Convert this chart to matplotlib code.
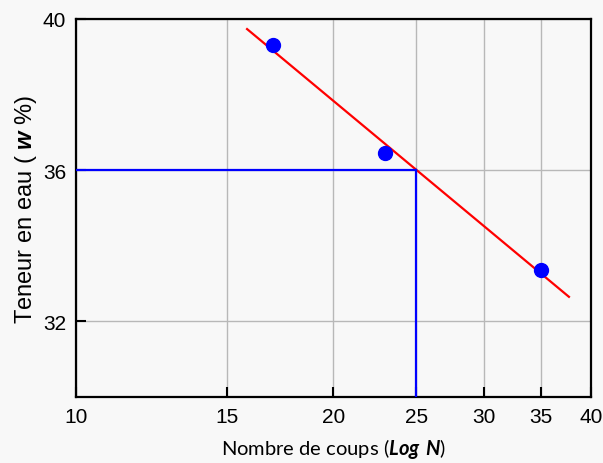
import matplotlib.pyplot as plt
import matplotlib.ticker as mticker
import numpy as np

# essais de Casagrande
coups = [17, 23, 35]
teneur = [39.3, 36.45, 33.36]
fit_range = [15.85, 37.7]
n_ref = 25
x_ticks = [10, 15, 20, 25, 30, 35, 40]
y_ticks = [32, 36, 40]

plt.rcParams['font.family'] = ['Liberation Sans', 'DejaVu Sans']
plt.rcParams['mathtext.fontset'] = 'custom'
plt.rcParams['mathtext.bf'] = 'Liberation Sans:bold:italic'
plt.rcParams['mathtext.bfit'] = 'Lato:bold:italic'

bg = '#f8f8f8'
fig = plt.figure(figsize=(6.03, 4.64), dpi=100, facecolor=bg)
ax = fig.add_axes([0.126, 0.142, 0.854, 0.815], facecolor=bg)

# droite de regression W = a log N + b
a, b = np.polyfit(np.log10(coups), teneur, 1)
xf = np.array(fit_range)
ax.plot(xf, a * np.log10(xf) + b, color='red', lw=1.6, zorder=3)
w_ref = a * np.log10(n_ref) + b

ax.plot([10, n_ref], [w_ref, w_ref], color='blue', lw=1.6, zorder=3)
ax.plot([n_ref, n_ref], [30, w_ref], color='blue', lw=1.6, zorder=3)
ax.plot(coups, teneur, 'o', color='blue', ms=10, zorder=4)

ax.set_xscale('log')
ax.set_xlim(10, 40)
ax.set_ylim(30, 40)
ax.xaxis.set_major_locator(mticker.FixedLocator(x_ticks))
ax.xaxis.set_minor_locator(mticker.NullLocator())
ax.xaxis.set_major_formatter(mticker.FixedFormatter([str(t) for t in x_ticks]))
ax.set_yticks(y_ticks)
ax.grid(True, color='#b8b8b8', lw=1)
ax.set_axisbelow(True)

for s in ax.spines.values():
    s.set_linewidth(1.6)
ax.tick_params(direction='in', length=7, width=1.5, labelsize=15, pad=7)
for lab in ax.get_xticklabels() + ax.get_yticklabels():
    lab.set_fontfamily('Liberation Sans')

ax.set_ylabel(r'Teneur en eau ( $\mathbf{w}$ %)', fontsize=17, labelpad=3)
ax.set_xlabel(r'Nombre de coups ($\mathbfit{Log\ N}$)', fontsize=14.5,
              family='Lato', labelpad=7)

fig.savefig('out.png', dpi=100, facecolor=bg)
